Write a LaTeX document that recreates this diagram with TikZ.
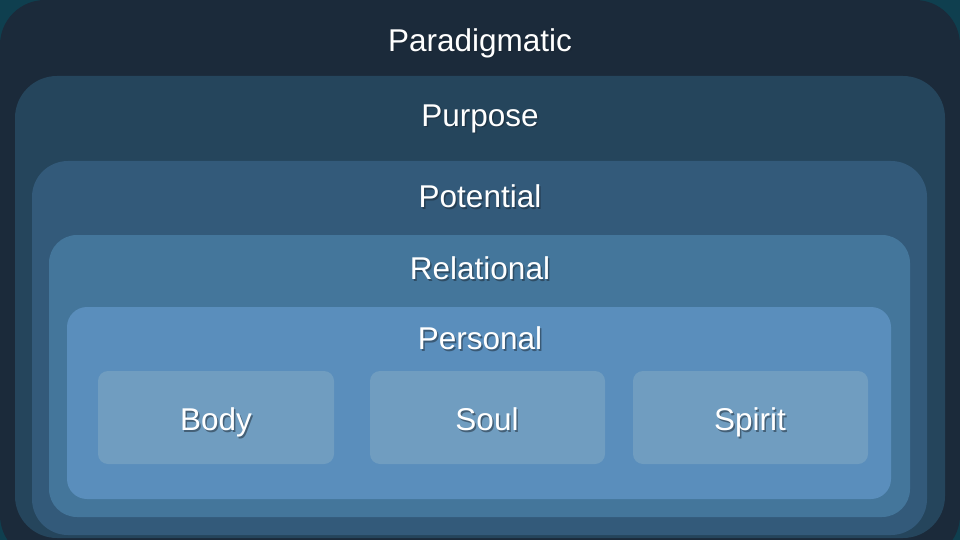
\documentclass[tikz,border=0pt]{standalone}
\usepackage{fontspec}
\setmainfont{Liberation Sans}
\definecolor{bgteal}{HTML}{0F3F4F}
\definecolor{cnavy}{HTML}{1B2A3A}
\definecolor{cpurpose}{HTML}{25455C}
\definecolor{cpotential}{HTML}{335A7A}
\definecolor{crelational}{HTML}{44769B}
\definecolor{cpersonal}{HTML}{5A8EBC}
\definecolor{cinner}{HTML}{709DC0}
\definecolor{tshadow}{HTML}{1A2530}
\begin{document}
\begin{tikzpicture}[x=1pt,y=-1pt,
  layer/.style={draw=none,rectangle},
  lbl/.style={text=white,font=\fontsize{31.5}{34}\selectfont,inner sep=0pt,anchor=base},
  shd/.style={text=tshadow,opacity=0.5,font=\fontsize{31.5}{34}\selectfont,inner sep=0pt,anchor=base}]
\useasboundingbox (0,0) rectangle (960,540);
\fill[bgteal] (0,0) rectangle (960,540);
\fill[cnavy, rounded corners=45pt] (0,0) rectangle (960,560);
\fill[cpurpose, rounded corners=42pt] (15,76) rectangle (945,538);
\fill[cpotential, rounded corners=36pt] (32,161) rectangle (927,535);
\fill[crelational, rounded corners=28pt] (49,235) rectangle (910,517);
\fill[cpersonal, rounded corners=20pt] (67,307) rectangle (891,499);
\node[layer,fill=cinner,rounded corners=10pt,minimum width=236pt,minimum height=93pt] (body) at (216,417.5) {};
\node[layer,fill=cinner,rounded corners=10pt,minimum width=235pt,minimum height=93pt] (soul) at (487.5,417.5) {};
\node[layer,fill=cinner,rounded corners=10pt,minimum width=235pt,minimum height=93pt] (spirit) at (750.5,417.5) {};
\foreach \n/\x/\y/\t in {tpar/480/40/Paradigmatic, tpur/480/115/Purpose, tpot/480/196/Potential, trel/480/268/Relational, tper/480/338/Personal, tbody/216/419/Body, tsoul/487/419/Soul, tspirit/750/419/Spirit}{
  \node[shd] at (\x+1.5,\y+13) {\t};
  \node[lbl] (\n) at (\x,\y+11.5) {\t};
}
\end{tikzpicture}
\end{document}
